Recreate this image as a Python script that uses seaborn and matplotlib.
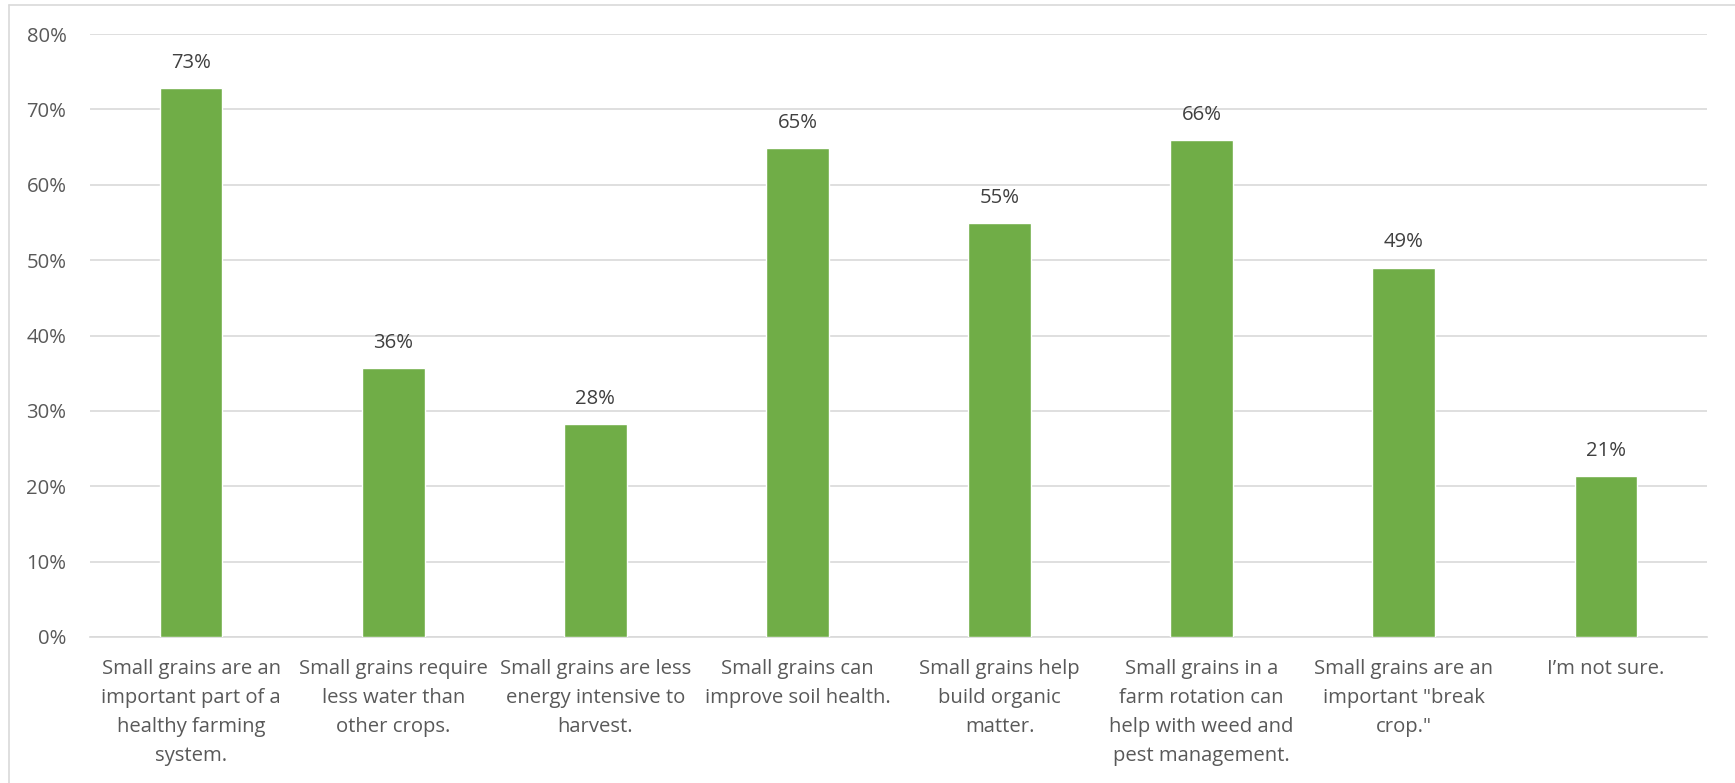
import numpy as np
import pandas as pd
import seaborn as sns
import matplotlib.pyplot as plt
from matplotlib.lines import Line2D
from matplotlib.ticker import FuncFormatter

categories = [
    "Small grains are an\nimportant part of a\nhealthy farming\nsystem.",
    "Small grains require\nless water than\nother crops.",
    "Small grains are less\nenergy intensive to\nharvest.",
    "Small grains can\nimprove soil health.",
    "Small grains help\nbuild organic\nmatter.",
    "Small grains in a\nfarm rotation can\nhelp with weed and\npest management.",
    "Small grains are an\nimportant \"break\ncrop.\"",
    "I\u2019m not sure.",
]
values = [72.8, 35.7, 28.2, 64.9, 54.9, 65.9, 49.0, 21.3]
labels = ["73%", "36%", "28%", "65%", "55%", "66%", "49%", "21%"]

df = pd.DataFrame({"cat": categories, "val": values})

sns.set_style("white")
plt.rcParams['font.family'] = ['Open Sans', 'DejaVu Sans']

fig = plt.figure(figsize=(17.35, 7.83), dpi=100)
ax = fig.add_axes([90 / 1735, 1 - 637 / 783, 1617 / 1735, 603 / 783])

sns.barplot(data=df, x="cat", y="val", color="#70ad47", width=0.31,
            saturation=1, ax=ax, zorder=3)

ax.set_ylim(0, 80)
ax.set_yticks(np.arange(0, 81, 10))
ax.yaxis.set_major_formatter(FuncFormatter(lambda v, p: f"{v:.0f}%"))
ax.grid(axis="y", color="#d9d9d9", linewidth=1.2, zorder=0)
ax.set_axisbelow(True)
for s in ["top", "right", "left"]:
    ax.spines[s].set_visible(False)
ax.spines["bottom"].set_color("#d9d9d9")
ax.spines["bottom"].set_linewidth(1.2)
ax.tick_params(axis="both", length=0, labelsize=14.6, labelcolor="#595959")
ax.tick_params(axis="x", pad=16)
ax.tick_params(axis="y", pad=17)
ax.set_xlabel("")
ax.set_ylabel("")
for t in ax.get_xticklabels():
    t.set_linespacing(1.6)

for i, (v, lab) in enumerate(zip(values, labels)):
    ax.annotate(lab, (i, v), xytext=(0, 11), textcoords="offset points",
                ha="center", va="bottom", fontsize=14.6, color="#404040")

# outer chart frame (left and top edges visible)
fig.add_artist(Line2D([9 / 1735, 9 / 1735], [0, 1 - 5 / 783],
                      transform=fig.transFigure, color="#d9d9d9", lw=1.2))
fig.add_artist(Line2D([9 / 1735, 1], [1 - 5 / 783, 1 - 5 / 783],
                      transform=fig.transFigure, color="#d9d9d9", lw=1.2))

fig.savefig("out.png", dpi=100, facecolor="white")
